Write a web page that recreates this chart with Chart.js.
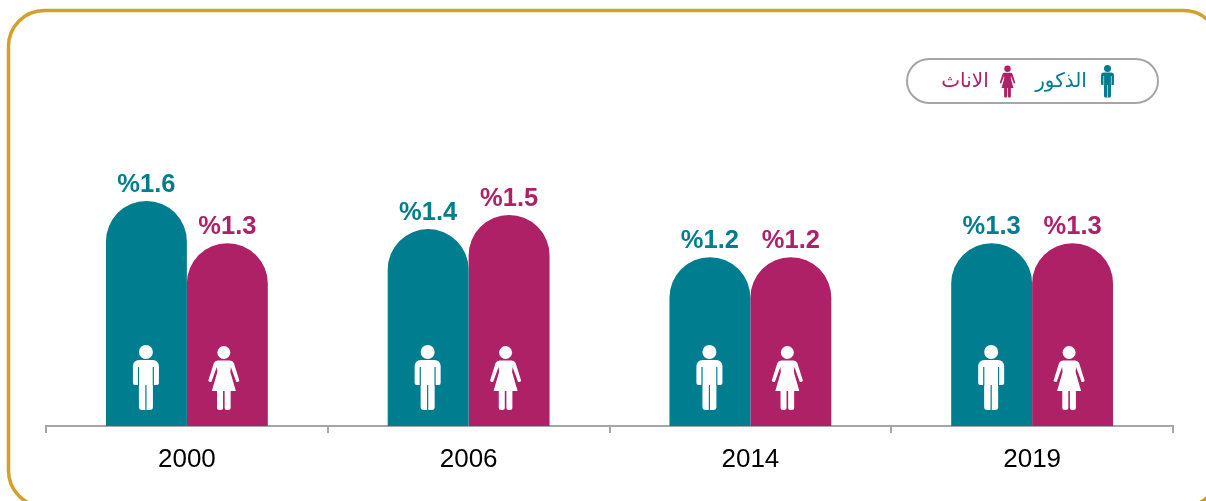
<!DOCTYPE html>
<html lang="ar">
<head>
<meta charset="utf-8">
<style>html,body{margin:0;padding:0;background:#fff}canvas{display:block}</style>
<script src="https://cdn.jsdelivr.net/npm/chart.js@4"></script>
</head>
<body>
<canvas id="c" width="1206" height="501"></canvas>
<script>
const categories = ['2000', '2006', '2014', '2019'];
const maleValues = [1.6, 1.4, 1.2, 1.3];
const femaleValues = [1.3, 1.5, 1.2, 1.3];
const maleName = 'الذكور';
const femaleName = 'الاناث';

const TEAL = '#007D8F', MAGENTA = '#AE2167', GOLD = '#D5A02A', GRAY = '#A6A6A6';
const LATIN = '"Liberation Sans", Arial, sans-serif';

function rr(ctx, x, y, w, h, r) { ctx.beginPath(); ctx.roundRect(x, y, w, h, r); }

/* icons: designed on a 65-tall box, origin at top centre */
function drawMan(ctx, cx, top, s, fg, bg) {
  ctx.save(); ctx.translate(cx, top); ctx.scale(s, s);
  ctx.fillStyle = fg;
  ctx.beginPath(); ctx.arc(0, 7, 7, 0, Math.PI * 2); ctx.fill();
  rr(ctx, -13, 15, 26, 25, [6, 6, 2, 2]); ctx.fill();
  rr(ctx, -7, 20, 14, 45, [0, 0, 3, 3]); ctx.fill();
  ctx.fillStyle = bg;
  ctx.fillRect(-8, 22, 1.2, 18.5);
  ctx.fillRect(6.8, 22, 1.2, 18.5);
  ctx.fillRect(-0.6, 40, 1.2, 25);
  ctx.restore();
}
function drawWoman(ctx, cx, top, s, fg, bg) {
  ctx.save(); ctx.translate(cx, top); ctx.scale(s, s);
  ctx.fillStyle = fg;
  ctx.beginPath(); ctx.arc(0, 7.5, 6.5, 0, Math.PI * 2); ctx.fill();
  ctx.beginPath();
  ctx.moveTo(-6, 15.5); ctx.lineTo(6, 15.5);
  ctx.quadraticCurveTo(9, 15.5, 10, 18);
  ctx.lineTo(15.5, 35.5); ctx.quadraticCurveTo(15, 37.5, 12.5, 37); 
  ctx.lineTo(7, 22);
  ctx.lineTo(6.5, 27);
  ctx.lineTo(12, 46); ctx.lineTo(6.8, 46); ctx.lineTo(6.8, 63);
  ctx.quadraticCurveTo(6.8, 65, 4.5, 65); ctx.lineTo(3, 65);
  ctx.quadraticCurveTo(0.8, 65, 0.8, 63); ctx.lineTo(0.8, 46);
  ctx.lineTo(-0.8, 46); ctx.lineTo(-0.8, 63);
  ctx.quadraticCurveTo(-0.8, 65, -3, 65); ctx.lineTo(-4.5, 65);
  ctx.quadraticCurveTo(-6.8, 65, -6.8, 63); ctx.lineTo(-6.8, 46);
  ctx.lineTo(-12, 46); ctx.lineTo(-6.5, 27); ctx.lineTo(-7, 22);
  ctx.lineTo(-12.5, 37); ctx.quadraticCurveTo(-15, 37.5, -15.5, 35.5); ctx.lineTo(-10, 18);
  ctx.quadraticCurveTo(-9, 15.5, -6, 15.5);
  ctx.closePath(); ctx.fill();
  ctx.restore();
}

const decorations = {
  id: 'decorations',
  beforeDraw(chart) {
    const ctx = chart.ctx;
    ctx.save();
    ctx.strokeStyle = GOLD; ctx.lineWidth = 3.5;
    rr(ctx, 8.5, 10.5, 1211, 496, 36); ctx.stroke();
    ctx.restore();
  },
  afterDatasetsDraw(chart) {
    const ctx = chart.ctx;
    const base = chart.scales.y.getPixelForValue(0);
    ctx.save();
    chart.data.datasets.forEach((ds, i) => {
      chart.getDatasetMeta(i).data.forEach((bar, j) => {
        const isMan = i === 0;
        (isMan ? drawMan : drawWoman)(ctx, bar.x + (isMan ? -0.5 : -3.5), base - 81, 1, '#fff', ds.backgroundColor);
        ctx.fillStyle = ds.backgroundColor;
        ctx.font = 'bold 25.5px ' + LATIN;
        ctx.textAlign = 'center'; ctx.textBaseline = 'alphabetic';
        ctx.fillText('%' + ds.data[j].toFixed(1), bar.x, bar.y - 9);
      });
    });
    /* legend */
    ctx.strokeStyle = GRAY; ctx.lineWidth = 2;
    rr(ctx, 907, 59, 251, 44, 22); ctx.stroke();
    drawMan(ctx, 1107.5, 65, 0.5, TEAL, '#fff');
    drawWoman(ctx, 1007.5, 65, 0.5, MAGENTA, '#fff');
    ctx.font = '20px "DejaVu Sans", sans-serif';
    ctx.textAlign = 'center'; ctx.textBaseline = 'alphabetic';
    ctx.direction = 'rtl';
    ctx.fillStyle = TEAL; ctx.fillText(maleName, 1061, 87);
    ctx.fillStyle = MAGENTA; ctx.fillText(femaleName, 965, 87);
    ctx.restore();
  }
};

new Chart(document.getElementById('c'), {
  type: 'bar',
  data: {
    labels: categories,
    datasets: [
      { label: maleName, data: maleValues, backgroundColor: TEAL,
        borderRadius: { topLeft: 41, topRight: 41 }, borderSkipped: 'bottom' },
      { label: femaleName, data: femaleValues, backgroundColor: MAGENTA,
        borderRadius: { topLeft: 41, topRight: 41 }, borderSkipped: 'bottom' }
    ]
  },
  options: {
    responsive: false,
    animation: false,
    layout: { padding: { top: 4, left: 46, right: 33, bottom: 0 } },
    plugins: { legend: { display: false }, tooltip: { enabled: false } },
    datasets: { bar: { barPercentage: 1, categoryPercentage: 162 / 282 } },
    scales: {
      x: {
        afterFit(s) { s.height = 75; },
        grid: { drawOnChartArea: false, drawTicks: true, tickLength: 7, color: GRAY, lineWidth: 2, offset: true },
        border: { color: GRAY, width: 2 },
        ticks: { color: '#000', padding: 11, maxRotation: 0, font: { family: LATIN, size: 26 } }
      },
      y: { display: false, min: 0, max: 3 }
    }
  },
  plugins: [decorations]
});
</script>
</body>
</html>
